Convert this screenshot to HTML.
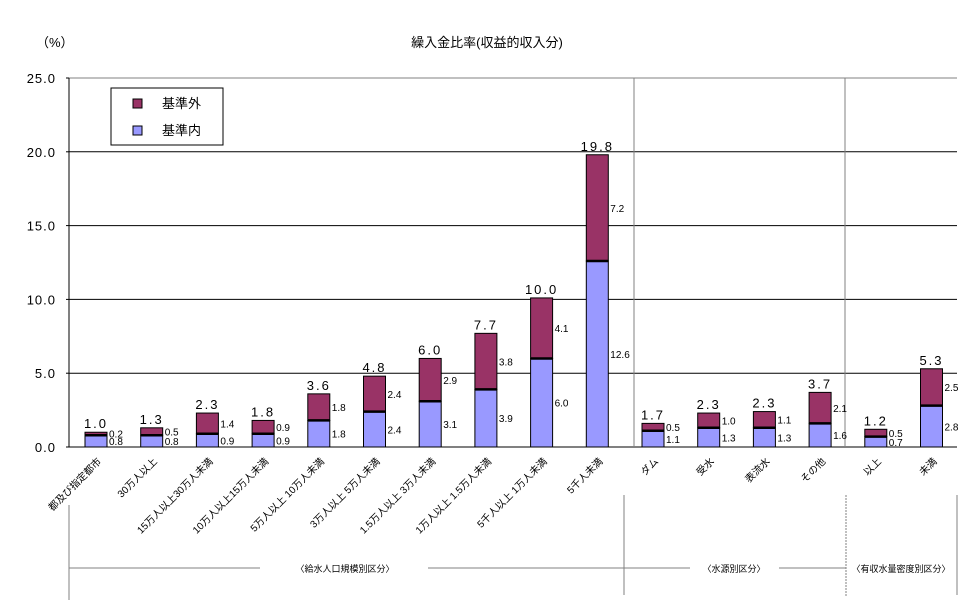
<!DOCTYPE html>
<html><head><meta charset="utf-8">
<style>
html,body{margin:0;padding:0;background:#fff;}
svg text{font-family:"Liberation Sans","Noto Sans CJK JP",sans-serif;}
</style></head>
<body>
<svg id="chart" width="970" height="603" xmlns="http://www.w3.org/2000/svg">
<text x="36" y="47" font-size="13">（%）</text>
<text x="487" y="47" font-size="13" text-anchor="middle">繰入金比率(収益的収入分)</text>
<g id="grid"></g>
<g id="bars"></g>
<g id="xlabels"></g>
<g>
<rect x="111" y="88" width="112" height="57" fill="#fff" stroke="#000"/>
<rect x="133" y="99" width="9" height="9" fill="#993366" stroke="#000"/>
<text x="162" y="108" font-size="13">基準外</text>
<rect x="133" y="126" width="9" height="9" fill="#9999ff" stroke="#000"/>
<text x="162" y="135" font-size="13">基準内</text>
</g>
<g stroke="#808080" fill="none">
<line x1="69" y1="505" x2="69" y2="600"/>
<line x1="69" y1="568" x2="260" y2="568"/>
<line x1="428" y1="568" x2="690" y2="568"/>
<line x1="624" y1="495" x2="624" y2="595"/>
<line x1="779" y1="568" x2="846" y2="568"/>
<line x1="846" y1="495" x2="846" y2="597" stroke-dasharray="2,1"/>
<line x1="957" y1="495" x2="957" y2="595"/>
</g>
<text x="345" y="572" font-size="9" text-anchor="middle">〈給水人口規模別区分〉</text>
<text x="734" y="572" font-size="9" text-anchor="middle">〈水源別区分〉</text>
<text x="901" y="572" font-size="9" text-anchor="middle">〈有収水量密度別区分〉</text>
</svg>
<script>
const categories=["都及び指定都市","30万人以上","15万人以上30万人未満","10万人以上15万人未満","5万人以上 10万人未満","3万人以上 5万人未満","1.5万人以上 3万人未満","1万人以上 1.5万人未満","5千人以上 1万人未満","5千人未満","ダム","受水","表流水","その他","以上","未満"];
const insideValues=[0.8,0.8,0.9,0.9,1.8,2.4,3.1,3.9,6.0,12.6,1.1,1.3,1.3,1.6,0.7,2.8];
const outsideValues=[0.2,0.5,1.4,0.9,1.8,2.4,2.9,3.8,4.1,7.2,0.5,1.0,1.1,2.1,0.5,2.5];
const totalValues=[1.0,1.3,2.3,1.8,3.6,4.8,6.0,7.7,10.0,19.8,1.7,2.3,2.3,3.7,1.2,5.3];
const yTicks=[0,5,10,15,20,25];
const yTickLabels=["0.0","5.0","10.0","15.0","20.0","25.0"];

const NS="http://www.w3.org/2000/svg";
const X0=69,X1=957,Y0=447,Y25=78;
const y=v=>Y0-(Y0-Y25)*v/25;
const xc=i=>96+i*55.7;
const BW=22;
function mk(tag,attrs,parent){const e=document.createElementNS(NS,tag);for(const k in attrs)e.setAttribute(k,attrs[k]);parent.appendChild(e);return e;}
const grid=document.getElementById('grid'),bars=document.getElementById('bars'),xl=document.getElementById('xlabels');
yTicks.forEach((t,i)=>{
  const ln=mk('line',{x1:X0,x2:X1,y1:y(t),y2:y(t),stroke:t===25?'#808080':'#000'},grid);
  
  
  const tk=mk('line',{x1:X0-3,x2:X0,y1:y(t),y2:y(t),stroke:'#000'},grid);
  const tx=mk('text',{x:56,y:y(t)+5,'font-size':13,'text-anchor':'end','letter-spacing':'1'},grid);
  tx.textContent=yTickLabels[i];
  
  
});
const ax=mk('line',{x1:X0,x2:X0,y1:Y25,y2:Y0,stroke:'#000'},grid);


mk('line',{x1:634,x2:634,y1:Y25,y2:Y0,stroke:'#808080'},grid);
mk('line',{x1:845,x2:845,y1:Y25,y2:Y0,stroke:'#808080'},grid);
categories.forEach((c,i)=>{
  const cx=xc(i),l=cx-BW/2;
  const yi=y(insideValues[i]),yt=y(insideValues[i]+outsideValues[i]);
  const r1=mk('rect',{x:l,y:yi,width:BW,height:Y0-yi,fill:'#9999ff',stroke:'#000','stroke-width':1},bars);
  
  
  const r2=mk('rect',{x:l,y:yt,width:BW,height:yi-yt,fill:'#993366',stroke:'#000','stroke-width':1},bars);
  
  
  mk('line',{x1:l,x2:l+BW,y1:yi,y2:yi,stroke:'#000','stroke-width':2.5},bars);
  const tt=mk('text',{x:cx,y:yt-4,'font-size':13,'text-anchor':'middle','letter-spacing':'2'},bars);
  tt.textContent=totalValues[i].toFixed(1);
  
  
  const lx=l+BW+2;
  const li=mk('text',{x:lx,y:(yi+Y0)/2+4,'font-size':10},bars);
  li.textContent=insideValues[i].toFixed(1);
  
  
  const lo=mk('text',{x:lx,y:(yt+yi)/2+4,'font-size':10},bars);
  lo.textContent=outsideValues[i].toFixed(1);
  
  
  const xt=mk('text',{x:cx+6,y:462,'font-size':10,'text-anchor':'end',transform:'rotate(-45 '+(cx+6)+' 462)'},xl);
  xt.textContent=c;
  
  
});
</script>
</body></html>
